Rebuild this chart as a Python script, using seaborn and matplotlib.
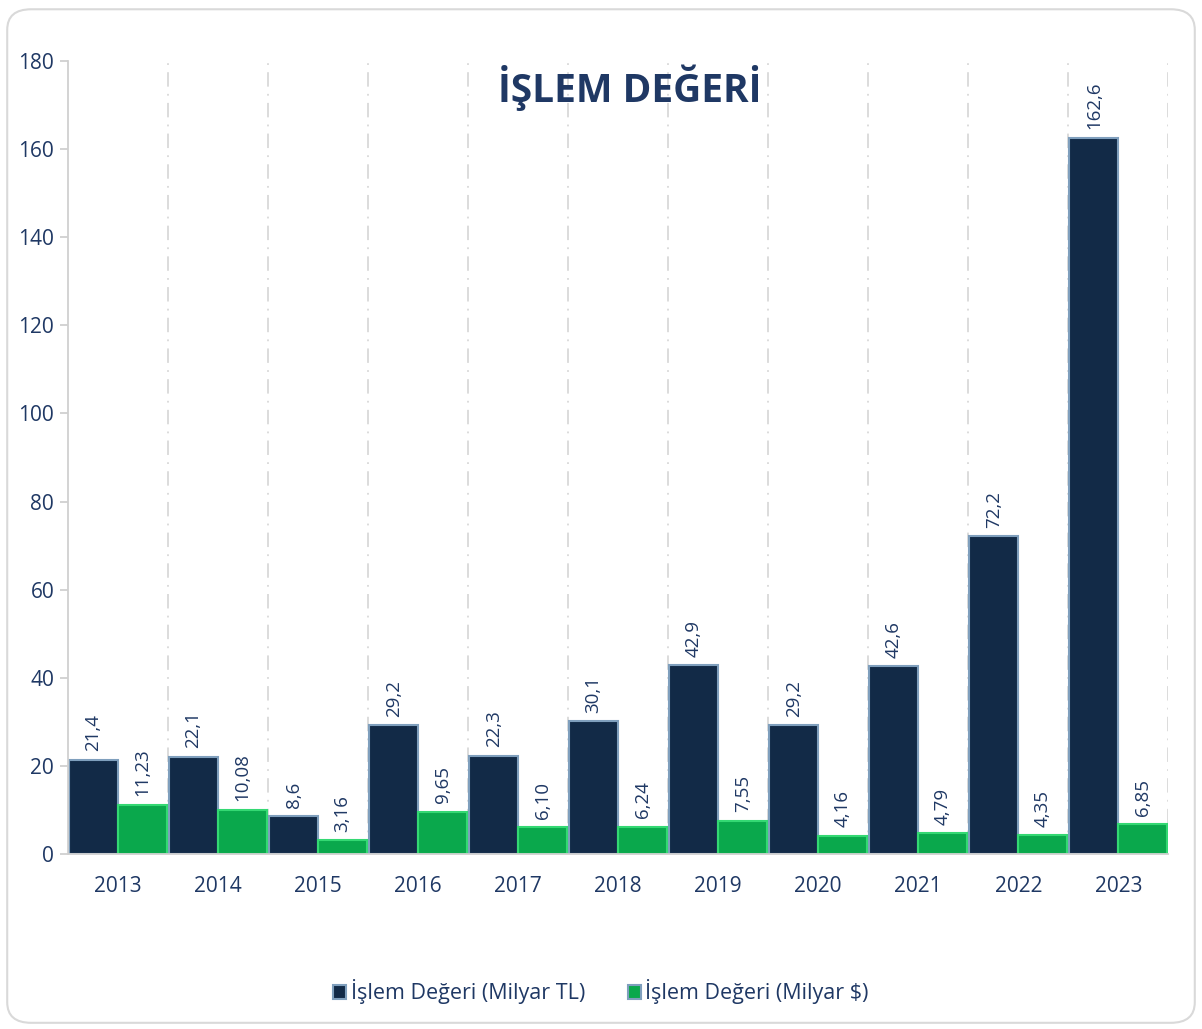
import numpy as np
import pandas as pd
import seaborn as sns
import matplotlib.pyplot as plt
from matplotlib.patches import FancyBboxPatch

# data
years = ['2013', '2014', '2015', '2016', '2017', '2018', '2019', '2020', '2021', '2022', '2023']
tl_values = [21.4, 22.1, 8.6, 29.2, 22.3, 30.1, 42.9, 29.2, 42.6, 72.2, 162.6]
usd_values = [11.23, 10.08, 3.16, 9.65, 6.10, 6.24, 7.55, 4.16, 4.79, 4.35, 6.85]
tl_labels = ['21,4', '22,1', '8,6', '29,2', '22,3', '30,1', '42,9', '29,2', '42,6', '72,2', '162,6']
usd_labels = ['11,23', '10,08', '3,16', '9,65', '6,10', '6,24', '7,55', '4,16', '4,79', '4,35', '6,85']
series = ['İşlem Değeri (Milyar TL)', 'İşlem Değeri (Milyar $)']

df = pd.DataFrame({
    'year': years * 2,
    'value': tl_values + usd_values,
    'series': [series[0]] * len(years) + [series[1]] * len(years),
})

navy = '#1f3864'
sns.set_theme(style='white')
plt.rcParams['font.family'] = ['Open Sans', 'DejaVu Sans']

fig = plt.figure(figsize=(12.02, 10.29), dpi=100)
ax = fig.add_axes([0.0566, 0.170, 0.9154, 0.7707])

sns.barplot(data=df, x='year', y='value', hue='series', ax=ax,
            palette=['#122a47', '#0aa84c'], width=0.98, saturation=1,
            edgecolor='#7f9fbd', linewidth=1.5)

# lighter edge for the green bars
for patch in ax.containers[1]:
    patch.set_edgecolor('#34d873')

# value labels, rotated
for cont, labels in zip(ax.containers, [tl_labels, usd_labels]):
    for patch, lab in zip(cont, labels):
        ax.annotate(lab, (patch.get_x() + patch.get_width() / 2, patch.get_height()),
                    xytext=(0, 6), textcoords='offset points', rotation=90,
                    ha='center', va='bottom', fontsize=13.5, color=navy)

# dash-dot separators between the years
ax.vlines(np.arange(len(years)) + 0.5, 0, 180, colors='#d9d9d9',
          linestyles=(0, (8, 4, 1, 4)), linewidth=1.3, zorder=0)

ax.set_xlim(-0.5, len(years) - 0.5)
ax.set_ylim(0, 180)
ax.set_yticks(range(0, 181, 20))
ax.set_xlabel('')
ax.set_ylabel('')
ax.tick_params(axis='y', colors='#d0d0d0', labelcolor=navy, labelsize=15,
               left=True, length=6, width=1.3, pad=4)
ax.tick_params(axis='x', labelcolor=navy, labelsize=15, bottom=False, pad=10)

for side in ['top', 'right']:
    ax.spines[side].set_visible(False)
for side in ['left', 'bottom']:
    ax.spines[side].set_color('#d0d0d0')
    ax.spines[side].set_linewidth(1.3)

ax.text(0.51, 0.995, 'İŞLEM DEĞERİ', transform=ax.transAxes, ha='center', va='top',
        fontsize=28, fontweight='bold', color=navy)

handles, _ = ax.get_legend_handles_labels()
ax.legend(handles, series, loc='center', bbox_to_anchor=(0.5, 0.036),
          bbox_transform=fig.transFigure, ncol=2, frameon=False, fontsize=15.5,
          handlelength=0.6, handleheight=0.6, handletextpad=0.2, columnspacing=2.0,
          labelcolor=navy)

# rounded frame around the whole picture
fig.patches.append(FancyBboxPatch((0.006, 0.006), 0.988, 0.985,
                                  boxstyle='round,pad=0,rounding_size=0.02',
                                  transform=fig.transFigure, facecolor='none',
                                  edgecolor='#d9d9d9', linewidth=1.5))

fig.savefig('out.png', dpi=100)
